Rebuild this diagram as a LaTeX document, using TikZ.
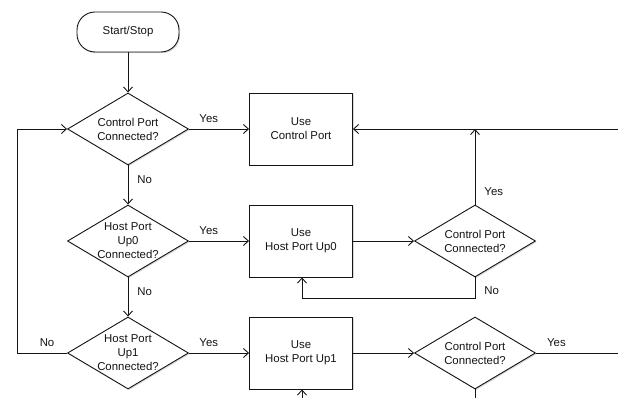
\documentclass[tikz,border=0pt]{standalone}
\usepackage{fontspec}
\setmainfont{Liberation Sans}
\usetikzlibrary{shapes.geometric,arrows.meta,shadows}
\definecolor{ink}{RGB}{20,20,20}
\newcommand{\drawflow}{\draw[line width=0.9pt,ink,-{Straight Barb[length=5pt,width=9pt]}]}
\newcommand{\drawplain}{\draw[line width=0.9pt,ink]}
\newcommand{\chartfont}{\fontsize{11.4}{14}\selectfont}
\tikzset{
  chart/.style={draw=ink,line width=0.9pt,fill=white,text=ink,font=\chartfont,align=center,
    drop shadow={shadow xshift=1.2pt,shadow yshift=-1.2pt,opacity=0.3}},
  terminal/.style={chart,rectangle,rounded corners=18pt,minimum width=102pt,minimum height=40pt},
  decision/.style={chart,diamond,aspect=1.68,inner sep=-2pt,minimum width=121pt,minimum height=72pt},
  process/.style={chart,rectangle,minimum width=103pt,minimum height=72pt},
  answer/.style={text=ink,font=\chartfont,inner sep=2pt}
}
\begin{document}
\begin{tikzpicture}[x=1pt,y=-1pt]
\useasboundingbox (0,0) rectangle (618,398);
\clip (0,0) rectangle (618,398);
\node[terminal] (start) at (128,32) {Start/Stop};
\node[decision] (ctl) at (128,129) {Control Port\\Connected?};
\node[decision] (up0) at (128,241) {Host Port\\Up0\\Connected?};
\node[decision] (up1) at (128,353) {Host Port\\Up1\\Connected?};
\node[process] (usectl) at (301,129) {Use\\Control Port};
\node[process] (useup0) at (301,241) {Use\\Host Port Up0};
\node[process] (useup1) at (301,353) {Use\\Host Port Up1};
\node[decision] (chk0) at (475,241) {Control Port\\Connected?};
\node[decision] (chk1) at (475,353) {Control Port\\Connected?};
\coordinate (edgetop) at (618,129);
\coordinate (edgeright) at (618,353);
\coordinate (edgein) at (302,398);
\coordinate (edgeout) at (475,398);
\drawflow (start) -- (ctl);
\drawflow (ctl) -- (usectl) node[answer,pos=0.33,above=4pt] {Yes};
\drawflow (ctl) -- (up0) node[answer,pos=0.36,right=7pt] {No};
\drawflow (up0) -- (useup0) node[answer,pos=0.33,above=4pt] {Yes};
\drawflow (up0) -- (up1) node[answer,pos=0.36,right=7pt] {No};
\drawflow (up1) -- (useup1) node[answer,pos=0.33,above=4pt] {Yes};
\drawflow (up1.west) -- ++(-50,0) node[answer,pos=0.4,above=4pt] {No} |- (ctl.west);
\drawflow (useup0) -- (chk0);
\drawflow (useup1) -- (chk1);
\drawflow (edgetop) -- (usectl);
\drawflow (chk0) -- (chk0 |- usectl) node[answer,pos=0.17,right=7pt] {Yes};
\drawflow (chk0.south) -- ++(0,21) node[answer,pos=0.65,right=7pt] {No} -| ([xshift=1pt]useup0.south);
\drawplain (chk1) -- (edgeright) node[answer,pos=0.25,above=4pt] {Yes};
\drawflow (edgein) -- ([xshift=1pt]useup1.south);
\drawplain (chk1) -- (edgeout);
\end{tikzpicture}
\end{document}
